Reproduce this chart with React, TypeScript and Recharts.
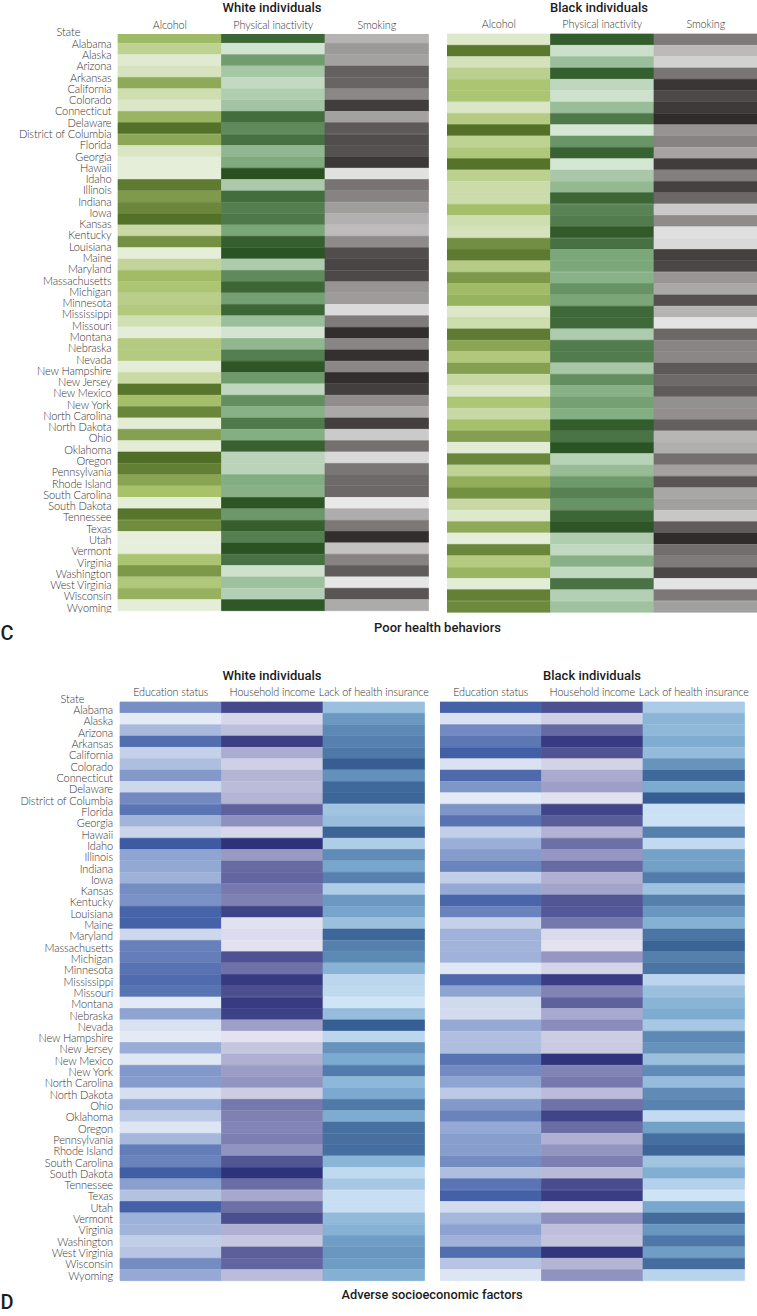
import { BarChart, Bar, Cell, XAxis, YAxis } from 'recharts';

const states = [
  'Alabama', 'Alaska', 'Arizona', 'Arkansas', 'California', 'Colorado', 'Connecticut', 'Delaware',
  'District of Columbia', 'Florida', 'Georgia', 'Hawaii', 'Idaho', 'Illinois', 'Indiana', 'Iowa',
  'Kansas', 'Kentucky', 'Louisiana', 'Maine', 'Maryland', 'Massachusetts', 'Michigan', 'Minnesota',
  'Mississippi', 'Missouri', 'Montana', 'Nebraska', 'Nevada', 'New Hampshire', 'New Jersey',
  'New Mexico', 'New York', 'North Carolina', 'North Dakota', 'Ohio', 'Oklahoma', 'Oregon',
  'Pennsylvania', 'Rhode Island', 'South Carolina', 'South Dakota', 'Tennessee', 'Texas', 'Utah',
  'Vermont', 'Virginia', 'Washington', 'West Virginia', 'Wisconsin', 'Wyoming',
];

const behaviorLabels = ['Alcohol', 'Physical inactivity', 'Smoking'];
const socioLabels = ['Education status', 'Household income', 'Lack of health insurance'];

// Relative shade (0 = lightest, 100 = darkest), per state
const whiteAlcohol = [55, 33, 6, 14, 65, 20, 10, 58, 98, 66, 12, 2, 2, 92, 74, 85, 98, 25, 80, 2, 30, 54, 47, 37, 42, 18, 3, 41, 41, 3, 24, 96, 52, 86, 4, 70, 4, 100, 90, 68, 50, 2, 96, 82, 1, 1, 48, 75, 44, 60, 3];
const whiteInactivity = [88, 4, 58, 28, 12, 22, 30, 84, 68, 82, 40, 50, 100, 25, 84, 75, 78, 53, 92, 98, 24, 68, 88, 56, 88, 34, 3, 40, 74, 97, 60, 14, 66, 45, 77, 47, 91, 17, 17, 48, 45, 97, 61, 92, 74, 99, 82, 6, 33, 20, 96];
const whiteSmoking = [28, 42, 38, 72, 70, 52, 90, 38, 76, 82, 80, 93, 4, 62, 54, 40, 30, 24, 50, 82, 86, 84, 45, 41, 7, 58, 98, 53, 97, 52, 98, 89, 49, 34, 89, 16, 64, 8, 61, 67, 68, 0, 32, 60, 98, 20, 54, 74, 1, 78, 33];
const blackAlcohol = [8, 94, 16, 35, 47, 47, 11, 41, 99, 33, 44, 97, 34, 23, 23, 52, 20, 15, 81, 93, 39, 75, 54, 59, 10, 21, 92, 67, 43, 71, 26, 10, 45, 25, 51, 71, 5, 86, 31, 62, 80, 25, 8, 65, 2, 86, 41, 58, 4, 89, 84];
const blackInactivity = [93, 7, 34, 92, 14, 6, 35, 78, 2, 62, 90, 2, 26, 39, 88, 72, 76, 95, 82, 52, 52, 44, 64, 53, 87, 86, 24, 76, 76, 27, 66, 45, 56, 47, 93, 80, 98, 18, 37, 60, 73, 63, 88, 97, 22, 13, 45, 13, 81, 20, 31];
const blackSmoking = [59, 25, 12, 61, 94, 84, 92, 99, 45, 54, 36, 90, 56, 88, 68, 16, 50, 5, 8, 88, 85, 44, 34, 80, 28, 2, 68, 53, 52, 76, 67, 75, 47, 48, 72, 27, 31, 64, 38, 78, 35, 39, 18, 74, 99, 65, 58, 85, 2, 60, 39];
const whiteEducation = [65, 2, 36, 87, 20, 33, 58, 15, 68, 82, 40, 17, 100, 51, 48, 42, 66, 63, 94, 95, 15, 74, 76, 84, 88, 83, 3, 51, 8, 3, 45, 5, 59, 56, 10, 48, 25, 6, 38, 77, 73, 98, 54, 30, 96, 42, 40, 22, 28, 67, 47];
const whiteIncome = [88, 8, 22, 93, 33, 12, 28, 24, 28, 75, 50, 8, 100, 44, 70, 73, 62, 58, 91, 2, 5, 2, 83, 66, 96, 85, 95, 92, 41, 1, 18, 31, 42, 47, 14, 63, 58, 56, 59, 48, 81, 100, 68, 36, 67, 85, 31, 17, 76, 73, 24];
const whiteInsurance = [32, 62, 72, 77, 83, 100, 67, 93, 95, 28, 33, 96, 20, 71, 53, 77, 20, 62, 54, 32, 94, 78, 72, 43, 12, 10, 0, 35, 100, 12, 66, 50, 81, 39, 51, 82, 49, 88, 88, 89, 41, 10, 25, 5, 5, 37, 44, 59, 63, 60, 46];
const blackEducation = [95, 8, 68, 81, 97, 8, 90, 60, 2, 61, 84, 21, 44, 57, 72, 22, 47, 92, 73, 20, 41, 40, 41, 4, 90, 51, 14, 12, 47, 32, 33, 84, 68, 51, 25, 58, 73, 47, 55, 55, 67, 33, 82, 96, 12, 38, 52, 41, 87, 28, 6];
const blackIncome = [84, 12, 71, 95, 82, 10, 34, 41, 2, 90, 77, 29, 67, 46, 70, 31, 38, 81, 80, 63, 6, 1, 46, 9, 94, 57, 75, 35, 52, 14, 15, 99, 57, 62, 24, 66, 90, 68, 31, 47, 59, 25, 86, 94, 4, 50, 22, 19, 98, 28, 49];
const blackInsurance = [22, 41, 38, 48, 36, 65, 93, 50, 100, 3, 3, 78, 9, 56, 57, 80, 30, 78, 63, 45, 85, 97, 78, 86, 13, 32, 42, 49, 25, 72, 66, 32, 71, 35, 71, 76, 8, 57, 89, 96, 28, 47, 17, 1, 52, 91, 63, 83, 59, 90, 14];

type Ramp = [number[], number[], number[]];

const greenAlcohol: Ramp = [[232, 240, 222], [168, 194, 108], [81, 110, 38]];
const greenInactivity: Ramp = [[216, 232, 216], [127, 171, 126], [40, 80, 32]];
const grayScale: Ramp = [[232, 232, 232], [142, 139, 138], [47, 42, 42]];
const blueEducation: Ramp = [[232, 238, 248], [144, 165, 210], [61, 90, 163]];
const indigoIncome: Ramp = [[228, 228, 242], [142, 144, 190], [46, 50, 123]];
const blueInsurance: Ramp = [[208, 228, 247], [124, 171, 208], [54, 94, 146]];

function shade(value: number, ramp: Ramp) {
  const t = value / 100;
  const [from, to, k] = t < 0.5 ? [ramp[0], ramp[1], t * 2] : [ramp[1], ramp[2], (t - 0.5) * 2];
  const rgb = from.map((c, i) => Math.round(c + (to[i] - c) * k));
  return `rgb(${rgb.join(',')})`;
}

const rows = states.map((state) => ({ state, a: 1, b: 1, c: 1 }));
const columnKeys = ['a', 'b', 'c'];
const columnTicks = [0.5, 1.5, 2.5];

const labelFont = 'Lato, "Open Sans", sans-serif';
const headFont = 'Roboto, "Noto Sans", sans-serif';

function StateTick({ y, payload, index, right, dyTop, dyBottom }: any) {
  const dy = dyTop + ((dyBottom - dyTop) * index) / 50;
  return (
    <text x={right} y={y + dy} textAnchor="end" dominantBaseline="central" fontFamily={labelFont} fontWeight={300} fontSize={11} letterSpacing={-0.1} fill="#333333">
      {payload.value}
    </text>
  );
}

interface HeatPanelProps {
  left: number;
  top: number;
  plotWidth: number;
  plotHeight: number;
  showStates: boolean;
  labels: string[];
  values: number[][];
  ramps: Ramp[];
  headMargin: number;
  labelRight?: number;
  dyTop?: number;
  dyBottom?: number;
}

function HeatPanel({ left, top, plotWidth, plotHeight, showStates, labels, values, ramps, headMargin, labelRight, dyTop, dyBottom }: HeatPanelProps) {
  const axisWidth = showStates ? left : 0;
  const headHeight = 20;
  const spare = 12;
  return (
    <div style={{ position: 'absolute', left: left - axisWidth, top: top - headHeight }}>
      <BarChart
        width={axisWidth + plotWidth + spare}
        height={headHeight + plotHeight + 2}
        data={rows}
        layout="vertical"
        barCategoryGap={0}
        margin={{ top: 0, right: spare, bottom: 2, left: 0 }}
      >
        <XAxis
          type="number"
          orientation="top"
          height={headHeight}
          domain={[0, 3]}
          ticks={columnTicks}
          interval={0}
          tickFormatter={(v: number) => labels[Math.floor(v)]}
          tick={{ fontFamily: labelFont, fontWeight: 300, fontSize: 10.8, letterSpacing: -0.1, fill: '#333333' }}
          tickLine={false}
          tickSize={0}
          tickMargin={headMargin}
          axisLine={false}
        />
        <YAxis
          type="category"
          dataKey="state"
          hide={!showStates}
          width={axisWidth}
          interval={0}
          tickLine={false}
          axisLine={false}
          tick={<StateTick right={labelRight} dyTop={dyTop} dyBottom={dyBottom} />}
        />
        {columnKeys.map((key, col) => (
          <Bar key={key} dataKey={key} stackId="cells" isAnimationActive={false}>
            {values[col].map((v, i) => (
              <Cell key={i} fill={shade(v, ramps[col])} stroke={shade(v, ramps[col])} strokeWidth={0.7} />
            ))}
          </Bar>
        ))}
      </BarChart>
    </div>
  );
}

function Note({ x, y, size, weight, font, color, children }: any) {
  return (
    <div
      style={{
        position: 'absolute',
        left: x,
        top: y,
        transform: 'translate(-50%, -50%)',
        whiteSpace: 'nowrap',
        fontFamily: font,
        fontSize: size,
        fontWeight: weight,
        color,
        lineHeight: 1,
      }}
    >
      {children}
    </div>
  );
}

export default function App() {
  return (
    <div style={{ position: 'absolute', left: 0, top: 0, width: 757, height: 1316, background: '#ffffff', overflow: 'hidden' }}>
      <HeatPanel
        left={118} top={31.7} plotWidth={310.5} plotHeight={579} showStates headMargin={3.4}
        labelRight={111.5} dyTop={5.6} dyBottom={1.8}
        labels={behaviorLabels}
        values={[whiteAlcohol, whiteInactivity, whiteSmoking]}
        ramps={[greenAlcohol, greenInactivity, grayScale]}
      />
      {/* first white row is cut short at the top in the original */}
      <div style={{ position: 'absolute', left: 116, top: 31, width: 314, height: 3, background: '#ffffff' }} />
      <HeatPanel
        left={446.5} top={34} plotWidth={310.5} plotHeight={578.5} showStates={false} headMargin={5.7}
        labels={behaviorLabels}
        values={[blackAlcohol, blackInactivity, blackSmoking]}
        ramps={[greenAlcohol, greenInactivity, grayScale]}
      />
      <HeatPanel
        left={120} top={702} plotWidth={304.5} plotHeight={579} showStates headMargin={6.5}
        labelRight={113} dyTop={2} dyBottom={-0.2}
        labels={socioLabels}
        values={[whiteEducation, whiteIncome, whiteInsurance]}
        ramps={[blueEducation, indigoIncome, blueInsurance]}
      />
      <HeatPanel
        left={439.5} top={702} plotWidth={304.5} plotHeight={579} showStates={false} headMargin={6.5}
        labels={socioLabels}
        values={[blackEducation, blackIncome, blackInsurance]}
        ramps={[blueEducation, indigoIncome, blueInsurance]}
      />

      <Note x={68.5} y={31} size={11} weight={300} font={labelFont} color="#333333">State</Note>
      <Note x={72.5} y={698} size={11} weight={300} font={labelFont} color="#333333">State</Note>

      <Note x={272} y={7} size={13} weight={500} font={headFont} color="#1c1c1c">White individuals</Note>
      <Note x={599} y={7} size={13} weight={500} font={headFont} color="#1c1c1c">Black individuals</Note>
      <Note x={272} y={675} size={13} weight={500} font={headFont} color="#1c1c1c">White individuals</Note>
      <Note x={592} y={675} size={13} weight={500} font={headFont} color="#1c1c1c">Black individuals</Note>

      <Note x={437.5} y={627} size={13} weight={500} font={headFont} color="#1c1c1c">Poor health behaviors</Note>
      <Note x={432} y={1295} size={12.8} weight={500} font={headFont} color="#1c1c1c">Adverse socioeconomic factors</Note>

      <Note x={7} y={633} size={20} weight={500} font={headFont} color="#1c1c1c">C</Note>
      <Note x={7} y={1302} size={20} weight={500} font={headFont} color="#1c1c1c">D</Note>
    </div>
  );
}
